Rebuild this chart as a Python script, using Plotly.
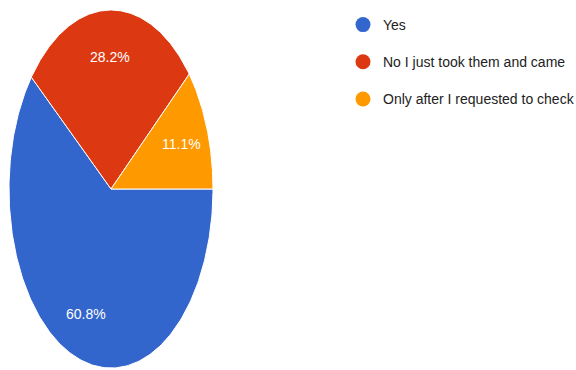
import numpy as np
import plotly.graph_objects as go

labels = ["Yes", "No I just took them and came", "Only after I requested to check"]
values = [60.8, 28.2, 11.1]
colors = ["#3366CC", "#DC3912", "#FF9900"]

FONT = "Liberation Sans, Arial, sans-serif"

fig = go.Figure()

total = sum(values)
start = 90.0  # compass degrees, clockwise from 12 o'clock
label_r = 0.74
for lab, v, c in zip(labels, values, colors):
    span = 360.0 * v / total
    th = np.radians(np.linspace(start, start + span, 200))
    xs = np.concatenate([[0], np.sin(th), [0]])
    ys = np.concatenate([[0], np.cos(th), [0]])
    fig.add_trace(go.Scatter(
        x=xs, y=ys, mode="lines", fill="toself", fillcolor=c,
        line=dict(color="white", width=1), hoverinfo="skip",
        showlegend=False,
    ))
    mid = np.radians(start + span / 2)
    fig.add_annotation(
        x=label_r * np.sin(mid), y=label_r * np.cos(mid),
        text=f"{v:.1f}%", showarrow=False,
        font=dict(family=FONT, size=14, color="white"),
    )
    start += span

for i, (lab, c) in enumerate(zip(labels, colors)):
    fig.add_trace(go.Scatter(
        x=[None], y=[None], mode="markers", name=lab,
        marker=dict(color=c, size=15), legendgroup=f"g{i}",
    ))

fig.update_layout(
    width=576, height=370,
    margin=dict(l=0, r=0, t=0, b=0, autoexpand=False),
    paper_bgcolor="white", plot_bgcolor="white",
    xaxis=dict(range=[-111 / 102, (576 - 111) / 102], visible=False, fixedrange=True),
    yaxis=dict(range=[-181 / 179, 189 / 179], visible=False, fixedrange=True),
    legend=dict(
        x=343 / 576, y=1 - 9 / 370, xanchor="left", yanchor="top",
        font=dict(family=FONT, size=14, color="#222222"),
        tracegroupgap=16, bgcolor="rgba(0,0,0,0)",
    ),
    showlegend=True,
)

fig.write_html("out.html")
